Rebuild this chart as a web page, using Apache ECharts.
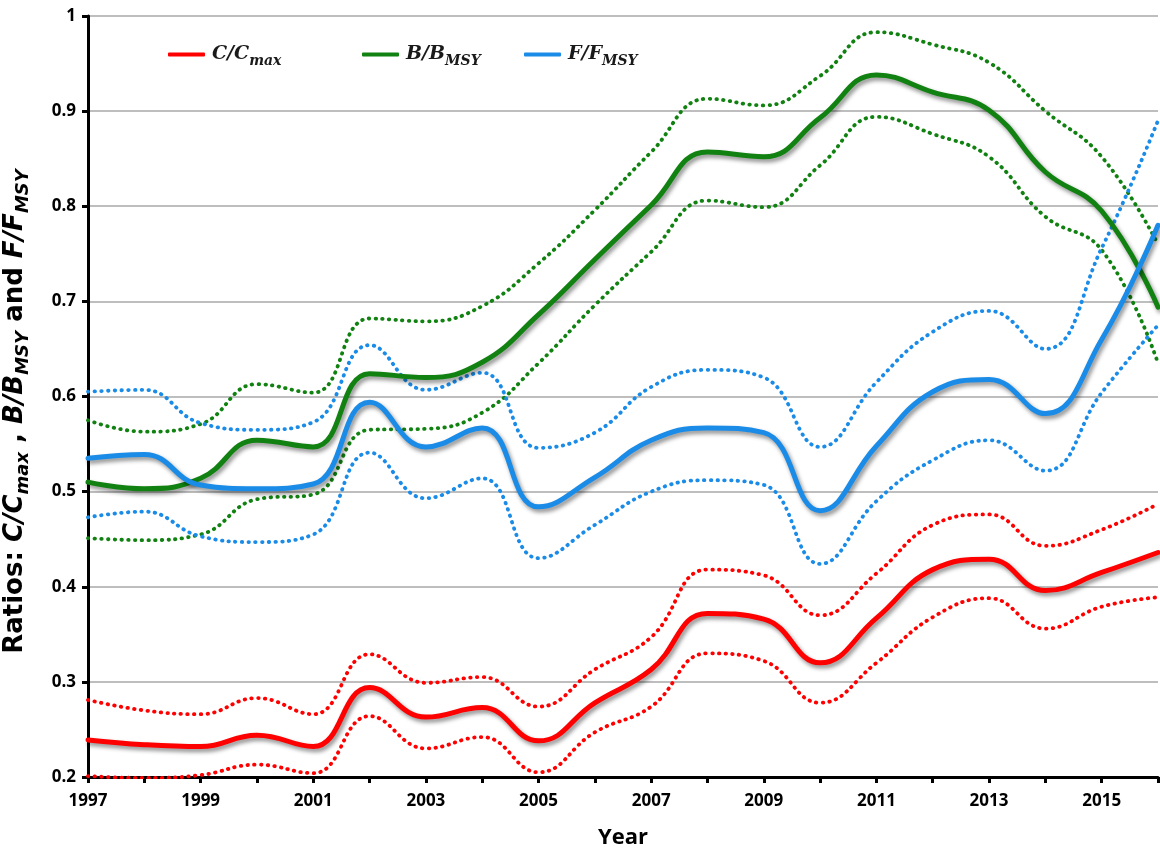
<!DOCTYPE html>
<html>
<head>
<meta charset="utf-8">
<title>Ratios C/Cmax, B/BMSY and F/FMSY</title>
<script src="https://cdn.jsdelivr.net/npm/echarts@6/dist/echarts.min.js"></script>
<style>
  html, body { margin: 0; padding: 0; background: #ffffff; }
  #chart { width: 1160px; height: 852px; }
</style>
</head>
<body>
<div id="chart"></div>
<script>
// Years on the x axis
const years = [1997, 1998, 1999, 2000, 2001, 2002, 2003, 2004, 2005, 2006,
               2007, 2008, 2009, 2010, 2011, 2012, 2013, 2014, 2015, 2016];

// Catch relative to maximum catch, with its bounds
const cRatio = [0.239, 0.234, 0.232, 0.244, 0.232, 0.294, 0.263, 0.273, 0.238, 0.278,
                0.313, 0.372, 0.366, 0.320, 0.367, 0.418, 0.429, 0.396, 0.415, 0.436];
const cUpper = [0.281, 0.270, 0.266, 0.283, 0.266, 0.329, 0.299, 0.305, 0.274, 0.313,
                0.347, 0.418, 0.412, 0.370, 0.414, 0.465, 0.476, 0.443, 0.460, 0.487];
const cLower = [0.201, 0.199, 0.202, 0.213, 0.204, 0.264, 0.230, 0.242, 0.205, 0.247,
                0.274, 0.330, 0.322, 0.278, 0.320, 0.368, 0.388, 0.356, 0.379, 0.389];

// Biomass relative to BMSY, with its bounds
const bRatio = [0.510, 0.503, 0.514, 0.554, 0.547, 0.624, 0.620, 0.636, 0.686, 0.744,
                0.801, 0.857, 0.852, 0.893, 0.938, 0.920, 0.901, 0.836, 0.795, 0.694];
const bUpper = [0.575, 0.563, 0.571, 0.613, 0.604, 0.682, 0.679, 0.695, 0.740, 0.796,
                0.857, 0.913, 0.906, 0.937, 0.983, 0.970, 0.951, 0.900, 0.852, 0.760];
const bLower = [0.451, 0.449, 0.455, 0.492, 0.497, 0.565, 0.566, 0.583, 0.635, 0.696,
                0.752, 0.806, 0.799, 0.843, 0.894, 0.876, 0.852, 0.789, 0.754, 0.635];

// Fishing mortality relative to FMSY, with its bounds
const fRatio = [0.535, 0.539, 0.507, 0.503, 0.508, 0.594, 0.547, 0.567, 0.484, 0.515,
                0.554, 0.567, 0.562, 0.480, 0.548, 0.605, 0.618, 0.582, 0.660, 0.780];
const fUpper = [0.605, 0.607, 0.572, 0.565, 0.573, 0.654, 0.607, 0.625, 0.546, 0.562,
                0.610, 0.628, 0.620, 0.547, 0.615, 0.668, 0.690, 0.650, 0.756, 0.890];
const fLower = [0.473, 0.479, 0.453, 0.447, 0.455, 0.541, 0.493, 0.514, 0.430, 0.465,
                0.500, 0.512, 0.507, 0.424, 0.490, 0.533, 0.554, 0.522, 0.604, 0.675];

// Series names and how they are written in the legend (main part + subscript)
const seriesNames = ['C/Cmax', 'B/BMSY', 'F/FMSY'];
const legendParts = {
  'C/Cmax': ['C/C', 'max'],
  'B/BMSY': ['B/B', 'MSY'],
  'F/FMSY': ['F/F', 'MSY']
};

const RED = '#ff0000';
const GREEN = '#118211';
const BLUE = '#1a8ce8';

const pairs = vals => years.map((y, i) => [y, vals[i]]);

function solid(name, vals, color) {
  return {
    name: name,
    type: 'line',
    data: pairs(vals),
    smooth: 0.45,
    showSymbol: false,
    symbol: 'none',
    silent: true,
    z: 5,
    lineStyle: {
      color: color,
      width: 5,
      cap: 'round',
      join: 'round',
      shadowColor: 'rgba(0,0,0,0.45)',
      shadowBlur: 4,
      shadowOffsetX: 2,
      shadowOffsetY: 3
    },
    itemStyle: { color: color }
  };
}

function dotted(vals, color) {
  return {
    type: 'line',
    data: pairs(vals),
    smooth: 0.45,
    showSymbol: false,
    symbol: 'none',
    silent: true,
    z: 3,
    lineStyle: {
      color: color,
      width: 3.8,
      type: [0.5, 6.2],
      cap: 'round'
    }
  };
}

const serifRich = {
  m: { fontFamily: 'DejaVu Serif', fontStyle: 'italic', fontWeight: 'bold', fontSize: 19,
       color: '#1a1a1a', lineHeight: 28, verticalAlign: 'middle' },
  s: { fontFamily: 'DejaVu Serif', fontStyle: 'italic', fontWeight: 'bold', fontSize: 14,
       color: '#1a1a1a', lineHeight: 15, verticalAlign: 'bottom' }
};

function legendAt(name, left) {
  return {
    data: [name],
    left: left,
    top: 40,
    icon: 'roundRect',
    itemWidth: 37,
    itemHeight: 4,
    itemGap: 0,
    selectedMode: false,
    formatter: n => '{m|' + legendParts[n][0] + '}{s|' + legendParts[n][1] + '}',
    textStyle: { rich: serifRich, padding: [0, 0, 0, 2] }
  };
}

const sansRich = {
  r: { fontFamily: 'DejaVu Sans', fontWeight: 'bold', fontSize: 26, color: '#000', lineHeight: 34, verticalAlign: 'middle' },
  i: { fontFamily: 'DejaVu Sans', fontWeight: 'bold', fontStyle: 'italic', fontSize: 26, color: '#000', lineHeight: 34, verticalAlign: 'middle' },
  s: { fontFamily: 'DejaVu Sans', fontWeight: 'bold', fontStyle: 'italic', fontSize: 18, color: '#000', lineHeight: 20, verticalAlign: 'bottom' }
};

const chart = echarts.init(document.getElementById('chart'), null, { renderer: 'canvas' });

chart.setOption({
  backgroundColor: '#ffffff',
  animation: false,
  grid: { left: 88, right: 2, top: 16, bottom: 75, containLabel: false, outerBoundsMode: 'none' },
  legend: [
    legendAt('C/Cmax', 163),
    legendAt('B/BMSY', 357),
    legendAt('F/FMSY', 519)
  ],
  xAxis: {
    type: 'value',
    min: 1997,
    max: 2016,
    interval: 1,
    name: 'Year',
    nameLocation: 'middle',
    nameGap: 50,
    nameTextStyle: { fontFamily: 'Open Sans', fontWeight: 'bold', fontSize: 22, color: '#000' },
    axisLine: { show: true, onZero: false, lineStyle: { color: '#000', width: 3 } },
    axisTick: { show: true, length: 6, lineStyle: { color: '#000', width: 3 } },
    axisLabel: {
      margin: 16,
      fontFamily: 'Open Sans',
      fontWeight: 'bold',
      fontSize: 17,
      color: '#000',
      formatter: v => ((v - 1997) % 2 === 0 && v < 2016) ? String(v) : ''
    },
    splitLine: { show: false }
  },
  yAxis: {
    type: 'value',
    min: 0.2,
    max: 1,
    interval: 0.1,
    name: '{r|Ratios: }{i|C/C}{s|max}{r| , }{i|B/B}{s|MSY}{r| and }{i|F/F}{s|MSY}',
    nameLocation: 'middle',
    nameGap: 56,
    nameTextStyle: { rich: sansRich, padding: [0, 30, 0, 0] },
    axisLine: { show: true, lineStyle: { color: '#000', width: 3 } },
    axisTick: { show: true, length: 6, lineStyle: { color: '#000', width: 3 } },
    axisLabel: {
      margin: 12,
      fontFamily: 'Open Sans',
      fontWeight: 'bold',
      fontSize: 17,
      color: '#000',
      formatter: v => {
        const r = Math.round(v * 10) / 10;
        return r === 1 ? '1' : r.toFixed(1);
      }
    },
    splitLine: { show: true, lineStyle: { color: '#a8a8a8', width: 1.6 } }
  },
  series: [
    dotted(cUpper, RED), dotted(cLower, RED),
    dotted(bUpper, GREEN), dotted(bLower, GREEN),
    dotted(fUpper, BLUE), dotted(fLower, BLUE),
    solid(seriesNames[0], cRatio, RED),
    solid(seriesNames[1], bRatio, GREEN),
    solid(seriesNames[2], fRatio, BLUE)
  ]
});
</script>
</body>
</html>
